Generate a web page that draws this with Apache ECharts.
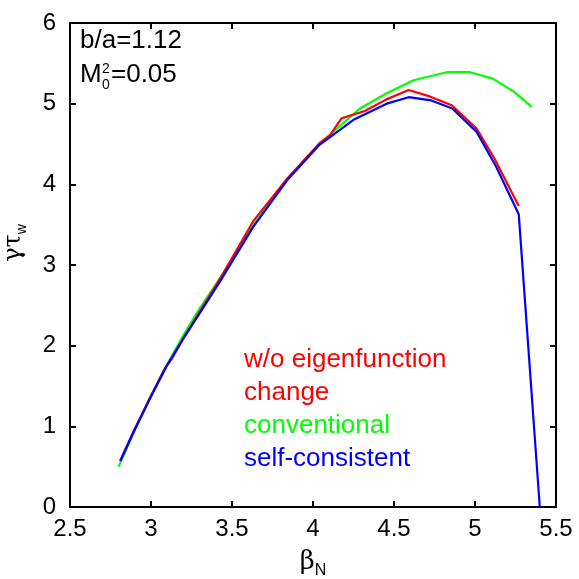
<!DOCTYPE html>
<html>
<head>
<meta charset="utf-8">
<script src="https://cdn.jsdelivr.net/npm/echarts@6/dist/echarts.min.js"></script>
<style>
html,body{margin:0;padding:0;background:#fff;}
#chart{width:579px;height:579px;}
</style>
</head>
<body>
<div id="chart"></div>
<script>
// ---- data ----
var xTicks = [2.5, 3, 3.5, 4, 4.5, 5, 5.5];
var yTicks = [0, 1, 2, 3, 4, 5, 6];

var redX = [2.81, 2.9, 3.0, 3.086, 3.13, 3.2, 3.3, 3.43, 3.63, 3.84, 4.04, 4.105, 4.177, 4.32, 4.45, 4.59, 4.72, 4.856, 5.01, 5.12, 5.27];
var redY = [0.57, 0.97, 1.38, 1.72, 1.84, 2.09, 2.42, 2.84, 3.54, 4.07, 4.51, 4.61, 4.82, 4.91, 5.05, 5.17, 5.09, 4.98, 4.69, 4.32, 3.73];

var greenX = [2.80, 2.9, 3.0, 3.1, 3.2, 3.3, 3.43, 3.63, 3.84, 4.04, 4.29, 4.455, 4.62, 4.825, 4.97, 5.11, 5.24, 5.35];
var greenY = [0.50, 0.95, 1.38, 1.77, 2.13, 2.46, 2.85, 3.49, 4.06, 4.50, 4.94, 5.13, 5.29, 5.39, 5.39, 5.31, 5.15, 4.96];

var blueX = [2.81, 2.9, 3.0, 3.1, 3.2, 3.3, 3.43, 3.63, 3.84, 4.04, 4.25, 4.455, 4.59, 4.73, 4.86, 5.01, 5.13, 5.27, 5.40];
var blueY = [0.57, 0.96, 1.37, 1.76, 2.09, 2.40, 2.81, 3.47, 4.05, 4.49, 4.80, 5.00, 5.08, 5.04, 4.94, 4.65, 4.22, 3.63, 0];

var legendLabels = ['w/o eigenfunction', 'change', 'conventional', 'self-consistent'];

function pairs(xs, ys) { return xs.map(function (x, i) { return [x, ys[i]]; }); }

var FONT = 'Liberation Sans, Arial, Helvetica, sans-serif';
var chart = echarts.init(document.getElementById('chart'));

var baseX = {
  type: 'value', min: 2.5, max: 5.5, interval: 0.5,
  axisLine: { show: true, onZero: false, lineStyle: { color: '#000', width: 2 } },
  axisTick: { show: true, inside: true, length: 6, lineStyle: { color: '#000', width: 2 } },
  splitLine: { show: false }
};
var baseY = {
  type: 'value', min: 0, max: 6, interval: 1,
  axisLine: { show: true, onZero: false, lineStyle: { color: '#000', width: 2 } },
  axisTick: { show: true, inside: true, length: 6, lineStyle: { color: '#000', width: 2 } },
  splitLine: { show: false }
};

function lineSeries(name, data, color) {
  return {
    name: name, type: 'line', data: data, showSymbol: false, symbol: 'none',
    lineStyle: { color: color, width: 2.2 }, animation: false, z: 3
  };
}

chart.setOption({
  animation: false,
  backgroundColor: '#fff',
  grid: { left: 70, right: 23, top: 23, bottom: 72, outerBoundsMode: 'none', containLabel: false },
  xAxis: [
    Object.assign({}, baseX, {
      position: 'bottom',
      axisLabel: { show: true, color: '#000', fontSize: 24, fontFamily: FONT, margin: 10,
        formatter: function (v) { return String(v); } },
      name: '{b|β}{s|N}', nameLocation: 'middle', nameGap: 38,
      nameTextStyle: { rich: {
        b: { fontSize: 26, fontFamily: 'DejaVu Serif, serif', color: '#000', verticalAlign: 'bottom', lineHeight: 30 },
        s: { fontSize: 16, fontFamily: FONT, color: '#000', verticalAlign: 'bottom', lineHeight: 30, padding: [0, 0, -4, 0] }
      } }
    }),
    Object.assign({}, baseX, { position: 'top', axisLabel: { show: false } })
  ],
  yAxis: [
    Object.assign({}, baseY, {
      position: 'left',
      axisLabel: { show: true, color: '#000', fontSize: 24, fontFamily: FONT, margin: 14 },
      name: '{b|γτ}{s|w}', nameLocation: 'middle', nameGap: 44, nameRotate: 90,
      nameTextStyle: { padding: [0, 0, 0, 44], rich: {
        b: { fontSize: 24, fontFamily: 'DejaVu Serif, serif', color: '#000', verticalAlign: 'bottom', lineHeight: 28 },
        s: { fontSize: 14, fontFamily: FONT, color: '#000', verticalAlign: 'bottom', lineHeight: 28, padding: [0, 0, -3, 0] }
      } }
    }),
    Object.assign({}, baseY, { position: 'right', axisLabel: { show: false } })
  ],
  series: [
    lineSeries('conventional', pairs(greenX, greenY), '#00ff00'),
    lineSeries('w/o eigenfunction change', pairs(redX, redY), '#ff0000'),
    lineSeries('self-consistent', pairs(blueX, blueY), '#0000ff')
  ],
  graphic: [
    { type: 'text', left: 80, top: 28, style: { text: 'b/a=1.12', fontSize: 26, fontFamily: FONT, fill: '#000' } },
    { type: 'text', left: 80, top: 62, style: { text: 'M', fontSize: 26, fontFamily: FONT, fill: '#000' } },
    { type: 'text', left: 102, top: 62, style: { text: '2', fontSize: 14, fontFamily: FONT, fill: '#000' } },
    { type: 'text', left: 102, top: 78, style: { text: '0', fontSize: 14, fontFamily: FONT, fill: '#000' } },
    { type: 'text', left: 111, top: 62, style: { text: '=0.05', fontSize: 26, fontFamily: FONT, fill: '#000' } },
    { type: 'text', left: 244, top: 347, style: { text: legendLabels[0], fontSize: 26, fontFamily: FONT, fill: '#ff0000' } },
    { type: 'text', left: 244, top: 380, style: { text: legendLabels[1], fontSize: 26, fontFamily: FONT, fill: '#ff0000' } },
    { type: 'text', left: 244, top: 413, style: { text: legendLabels[2], fontSize: 26, fontFamily: FONT, fill: '#00ff00' } },
    { type: 'text', left: 244, top: 446, style: { text: legendLabels[3], fontSize: 26, fontFamily: FONT, fill: '#0000ff' } }
  ]
});
</script>
</body>
</html>
